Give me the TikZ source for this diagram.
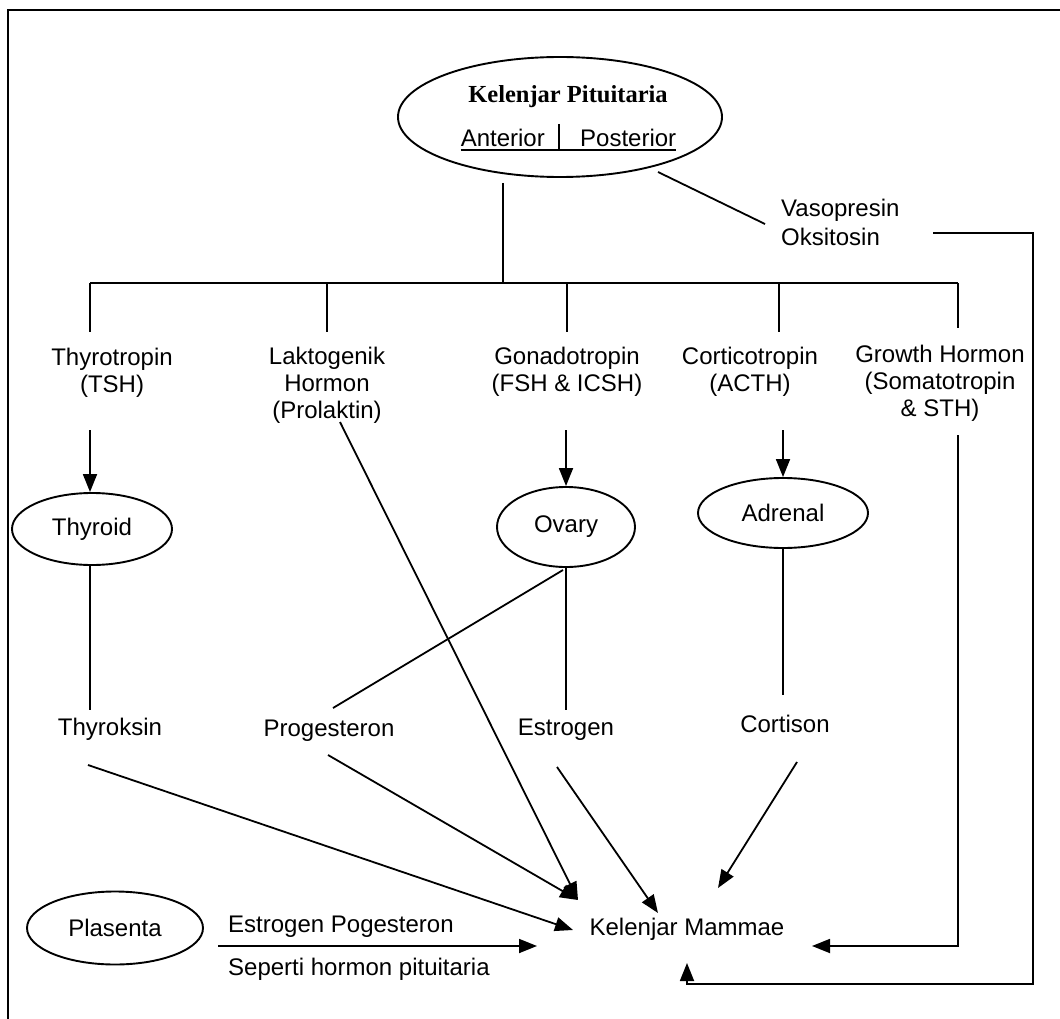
\documentclass[tikz,border=0pt]{standalone}
\usepackage{fontspec}
\setmainfont{Liberation Sans}
\newfontfamily\serifb{Liberation Serif}
\usetikzlibrary{arrows.meta,shapes.geometric}
\begin{document}
\begin{tikzpicture}[x=1pt,y=-1pt,
  ln/.style={line width=1.8pt, black},
  arr/.style={ln, -{Triangle[length=18pt,width=14pt]}},
  lbl/.style={inner sep=0pt, font=\fontsize{24}{27}\selectfont, align=center},
  org/.style={draw, ellipse, line width=1.9pt, inner sep=0pt, font=\fontsize{24}{27}\selectfont},
]
\useasboundingbox (0,0) rectangle (1060,1019);
\draw[line width=2.6pt] (8,1019) -- (8,10) -- (1060,10);

% pituitary
\node[org, minimum width=324pt, minimum height=120pt] (pit) at (560,117) {};
\node[inner sep=0pt, anchor=base, font=\serifb\bfseries\fontsize{24.5}{28}\selectfont] (title) at (568,103) {Kelenjar Pituitaria};
\node[lbl, anchor=base east] (ant) at (545,147) {Anterior};
\node[lbl, anchor=base west] (post) at (580,147) {Posterior};
\draw[line width=1.4pt] ([yshift=-3pt]ant.base west) -- ([yshift=-3pt]post.base east);
\coordinate (bart) at (559,124);
\coordinate (barb) at (559,150);
\draw[line width=1.4pt] (bart) -- (barb);

% posterior hormones
\node[lbl, anchor=north west, align=left, font=\fontsize{24}{29}\selectfont] (vaso) at (781,198.5) {Vasopresin\\Oksitosin};
\coordinate (p1) at (658,172);
\coordinate (p2) at (765,224);
\draw[ln] (p1) -- (p2);

% hub and bar
\coordinate (hubtop) at (503,183);
\coordinate (hub) at (503,283);
\draw[ln] (hubtop) -- (hub);
\coordinate (d1) at (90,283);
\coordinate (d2) at (327,283);
\coordinate (d3) at (567,283);
\coordinate (d4) at (779,283);
\coordinate (d5) at (958,283);
\draw[ln] (d1) -- (d5);
\draw[ln] (d1) -- ++(0,49);
\draw[ln] (d2) -- ++(0,49);
\draw[ln] (d3) -- ++(0,49);
\draw[ln] (d4) -- ++(0,49);
\draw[ln] (d5) -- ++(0,45);

% anterior hormones
\node[lbl, anchor=north] (tsh) at (112,347.5) {Thyrotropin\\(TSH)};
\node[lbl, anchor=north] (lak) at (327,346.5) {Laktogenik\\Hormon\\(Prolaktin)};
\node[lbl, anchor=north] (gon) at (567,346.5) {Gonadotropin\\(FSH \& ICSH)};
\node[lbl, anchor=north] (cor) at (750,346.5) {Corticotropin\\(ACTH)};
\node[lbl, anchor=north] (gh) at (940,344.5) {Growth Hormon\\(Somatotropin\\\& STH)};

% glands
\node[org, minimum width=160pt, minimum height=72pt] (thyroid) at (92,529) {Thyroid};
\node[org, minimum width=138pt, minimum height=80pt] (ovary) at (566,527) {\raisebox{4pt}{Ovary}};
\node[org, minimum width=170pt, minimum height=70pt] (adrenal) at (783,513) {Adrenal};
\node[org, minimum width=176pt, minimum height=73pt] (plasenta) at (115,928) {Plasenta};

\coordinate (a1) at (90,430);
\coordinate (a3) at (566,430);
\coordinate (a4) at (783,430);
\draw[arr] (a1) -- (a1 |- thyroid.north);
\draw[arr] (a3) -- (ovary.north);
\draw[arr] (a4) -- (adrenal.north);

% products
\node[lbl, anchor=base] (tyx) at (110,735) {Thyroksin};
\node[lbl, anchor=base] (prog) at (329,736) {Progesteron};
\node[lbl, anchor=base] (estr) at (566,735) {Estrogen};
\node[lbl, anchor=base] (cort) at (785,732) {Cortison};

\coordinate (e1) at (90,710);
\coordinate (e3) at (566,710);
\coordinate (e4) at (783,695);
\coordinate (pr1) at (333,708);
\coordinate (ov1) at (563,570);
\draw[ln] (thyroid.south -| e1) -- (e1);
\draw[ln] (ovary.south) -- (e3);
\draw[ln] (ov1) -- (pr1);
\draw[ln] (adrenal.south) -- (e4);

% target
\node[lbl, anchor=base] (km) at (687,935) {Kelenjar Mammae};
\coordinate (tipA) at (578,900);
\coordinate (tipT) at (573,930);
\coordinate (tipE) at (658,913);
\coordinate (tipC) at (718,888);
\coordinate (tipP) at (537,946);
\coordinate (tipG) at (812,946);
\coordinate (tipO) at (687,963);

\coordinate (sT) at (88,765);
\coordinate (sP) at (328,755);
\coordinate (sL) at (340,422);
\coordinate (sE) at (557,767);
\coordinate (sC) at (797,762);
\draw[arr] (sT) -- (tipT);
\draw[arr] (sP) -- (tipA);
\draw[arr] (sL) -- (tipA);
\draw[arr] (sE) -- (tipE);
\draw[arr] (sC) -- (tipC);

% placenta
\node[lbl, anchor=base west] (pl1) at (228,932) {Estrogen Pogesteron};
\node[lbl, anchor=base west] (pl2) at (228,975) {Seperti hormon pituitaria};
\coordinate (sPl) at (218,946);
\draw[arr] (sPl) -- (tipP);

% growth hormone route
\coordinate (g1) at (958,435);
\coordinate (g2) at (958,946);
\draw[arr] (g1) -- (g2) -- (tipG);

% oxytocin route
\coordinate (o1) at (933,233);
\coordinate (o2) at (1033,233);
\coordinate (o3) at (1033,984);
\coordinate (o4) at (687,984);
\draw[arr] (o1) -- (o2) -- (o3) -- (o4) -- (tipO);
\end{tikzpicture}
\end{document}
